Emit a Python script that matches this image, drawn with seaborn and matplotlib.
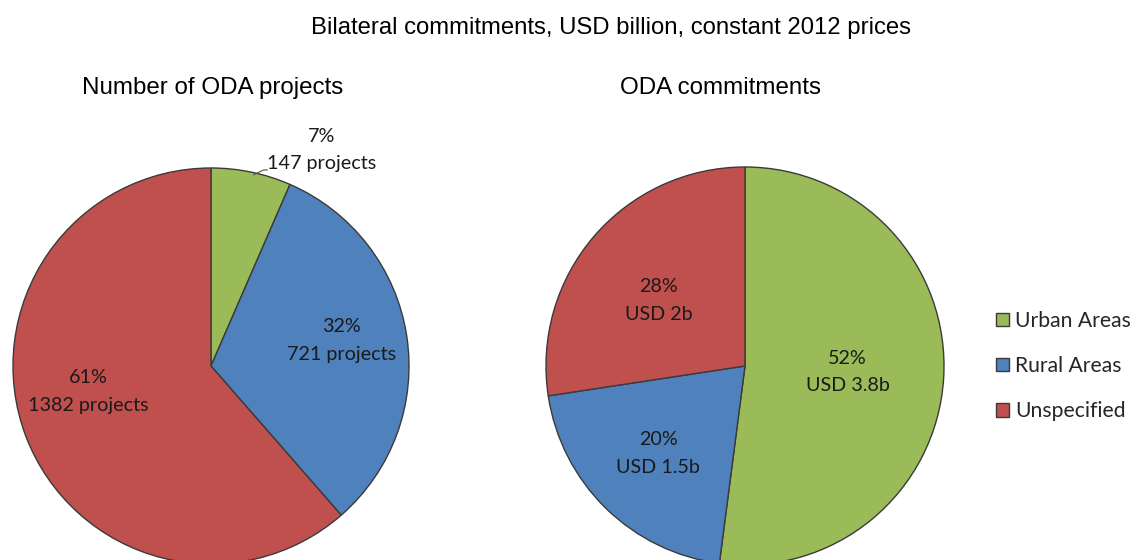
import matplotlib
matplotlib.use("Agg")
import matplotlib.pyplot as plt
from matplotlib.patches import Patch
import seaborn as sns

# Data
categories = ["Urban Areas", "Rural Areas", "Unspecified"]
project_counts = [147, 721, 1382]
project_pct = ["7%", "32%", "61%"]
commitments_usd = [3.8, 1.5, 2.0]
commitment_pct = ["52%", "20%", "28%"]
commitment_text = ["USD 3.8b", "USD 1.5b", "USD 2b"]

sns.set_theme(style="white")
colors = ["#9BBB59", "#4F81BD", "#C0504D"]
title_font = ["Liberation Sans", "DejaVu Sans"]
label_font = ["Lato", "DejaVu Sans"]

W, H = 1137, 560
fig = plt.figure(figsize=(W / 100, H / 100), dpi=100)


def pie_axes(cx, cy, r):
    # axes whose box is exactly the pie's bounding square (pixel coords, y from top)
    return fig.add_axes([(cx - r) / W, (H - cy - r) / H, 2 * r / W, 2 * r / H])


def draw_pie(ax, values):
    ax.pie(values, colors=colors, startangle=90, counterclock=False, radius=1,
           wedgeprops=dict(edgecolor="#3a3a3a", linewidth=1.0))
    ax.set_xlim(-1.005, 1.005)
    ax.set_ylim(-1.005, 1.005)
    ax.set_aspect("equal")
    ax.axis("off")


# Left pie: number of projects
ax1 = pie_axes(211, 366, 199)
draw_pie(ax1, project_counts)
left_pos = [(0.56, 1.09), (0.66, 0.13), (-0.62, -0.13)]
for (x, y), pct, n in zip(left_pos, project_pct, project_counts):
    ax1.text(x, y, f"{pct}\n{n} projects", ha="center", va="center",
             fontsize=14.2, family=label_font, color="#1a1a1a", linespacing=1.75,
             clip_on=False)
# leader line for the small slice
ax1.plot([0.215, 0.265, 0.285], [0.965, 0.99, 0.99], color="#555555", lw=0.8,
         clip_on=False)

# Right pie: commitments
ax2 = pie_axes(745, 366, 200)
draw_pie(ax2, commitments_usd)
right_pos = [(0.515, -0.03), (-0.435, -0.44), (-0.435, 0.33)]
for (x, y), pct, t in zip(right_pos, commitment_pct, commitment_text):
    ax2.text(x, y, f"{pct}\n{t}", ha="center", va="center",
             fontsize=14.2, family=label_font, color="#1a1a1a", linespacing=1.75)

# Titles
fig.text(611 / W, 1 - 28 / H, "Bilateral commitments, USD billion, constant 2012 prices",
         ha="center", va="center", fontsize=17.2, family=title_font, color="black")
fig.text(213 / W, 1 - 88 / H, "Number of ODA projects", ha="center", va="center",
         fontsize=17.4, family=title_font, color="black")
fig.text(720 / W, 1 - 88 / H, "ODA commitments", ha="center", va="center",
         fontsize=17.4, family=title_font, color="black")

# Legend
handles = [Patch(facecolor=c, edgecolor="#3a3a3a", linewidth=1.0) for c in colors]
fig.legend(handles, categories, loc="center left",
           bbox_to_anchor=(996 / W, 1 - 366 / H), frameon=False,
           prop=dict(family=label_font, size=15.2), handlelength=0.6,
           handleheight=0.6, handletextpad=0.3, labelspacing=1.2,
           borderaxespad=0, borderpad=0)

plt.savefig("out.png", dpi=100)
